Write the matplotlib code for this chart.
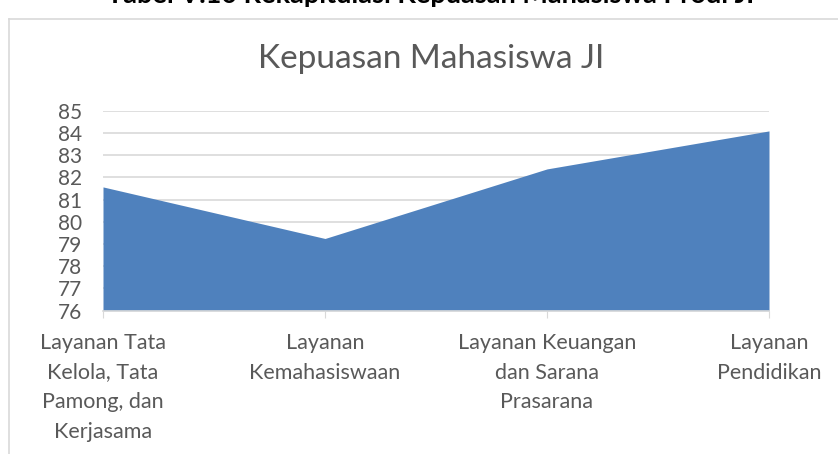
import matplotlib.pyplot as plt
from matplotlib.lines import Line2D

plt.rcParams['font.family'] = ['Lato', 'DejaVu Sans']

categories = ["Layanan Tata\nKelola, Tata\nPamong, dan\nKerjasama",
              "Layanan\nKemahasiswaan",
              "Layanan Keuangan\ndan Sarana\nPrasarana",
              "Layanan\nPendidikan"]
values = [81.57, 79.25, 82.38, 84.09]
yticks = list(range(76, 86))

fig = plt.figure(figsize=(8.38, 4.54), dpi=100)
ax = fig.add_axes([103/838, 1 - 310.7/454, (769 - 103)/838, 200/454])

x = range(len(values))
ax.fill_between(x, 76, values, color='#4f81bd', linewidth=0, zorder=2)

ax.set_xlim(0, len(values) - 1)
ax.set_ylim(76, 85)
ax.set_yticks(yticks)
ax.set_xticks(list(x))
ax.set_xticklabels(categories, linespacing=1.6)
ax.grid(axis='y', color='#d9d9d9', linewidth=1.2, zorder=0)
for s in ['top', 'right', 'left']:
    ax.spines[s].set_visible(False)
ax.spines['bottom'].set_color('#d9d9d9')
ax.spines['bottom'].set_linewidth(1.2)
ax.tick_params(axis='y', length=0, labelsize=15, labelcolor='#595959', pad=15)
ax.tick_params(axis='x', length=5, color='#d9d9d9', labelsize=15.5, labelcolor='#595959', pad=11)
ax.set_axisbelow(True)

fig.text(431/838, 1 - 59/454, "Kepuasan Mahasiswa JI", ha='center', va='center',
         fontsize=24, color='#595959')
fig.text(431/838, 1 + 5.5/454, "Tabel V.10 Rekapitulasi Kepuasan Mahasiswa Prodi JI",
         ha='center', va='center', fontsize=19.5, fontweight='bold', color='black')

# chart border
fig.add_artist(Line2D([9/838, 1], [1 - 19/454, 1 - 19/454], color='#d9d9d9', linewidth=1.2))
fig.add_artist(Line2D([9/838, 9/838], [0, 1 - 19/454], color='#d9d9d9', linewidth=1.2))

fig.savefig('out.png', dpi=100)
